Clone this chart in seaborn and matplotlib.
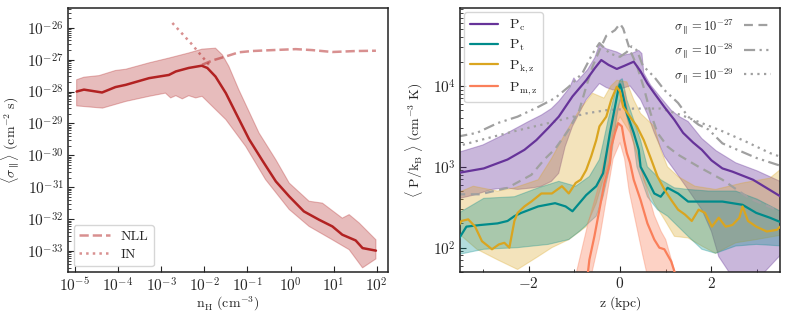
import numpy as np
import pandas as pd
import matplotlib
matplotlib.use("Agg")
import matplotlib.pyplot as plt
from matplotlib.ticker import FuncFormatter, LogLocator, MultipleLocator, NullLocator, NullFormatter
import seaborn as sns

# ---------------- data: left panel (log10 values) ----------------
nH_main = [-4.96, -4.79, -4.37, -4.06, -3.82, -3.28, -2.82, -2.66, -2.36, -2.06,
           -1.93, -1.74, -1.50, -1.27, -0.96, -0.65, -0.34, -0.03, 0.31, 0.66,
           0.97, 1.20, 1.51, 1.67, 1.98]
sig_main = [-28.00, -27.94, -28.03, -27.86, -27.79, -27.58, -27.48, -27.37, -27.26, -27.19,
            -27.26, -27.53, -28.05, -28.67, -29.50, -30.17, -30.82, -31.29, -31.76, -32.02,
            -32.23, -32.49, -32.67, -32.91, -32.99]
nH_up = [-4.96, -4.79, -4.44, -4.06, -3.82, -3.28, -2.82, -2.36, -2.05, -1.74,
         -1.58, -1.43, -1.20, -0.73, -0.34, -0.03, 0.43, 0.74, 1.20, 1.36,
         1.59, 1.98]
sig_up = [-27.63, -27.55, -27.50, -27.34, -27.30, -27.10, -26.95, -26.79, -26.67, -26.64,
          -26.85, -27.21, -27.94, -29.30, -30.14, -30.87, -31.44, -31.50, -31.97, -31.86,
          -32.12, -32.65]
nH_lo = [-4.96, -4.36, -3.82, -3.28, -2.90, -2.78, -2.66, -2.51, -2.36, -2.20,
         -2.05, -1.81, -1.50, -1.04, -0.58, -0.03, 0.43, 0.97, 1.36, 1.67,
         1.98]
sig_lo = [-28.45, -28.52, -28.31, -28.15, -28.05, -28.20, -28.13, -28.23, -28.13, -28.20,
          -28.15, -28.47, -28.88, -29.72, -30.76, -31.70, -32.23, -32.65, -32.96, -33.53,
          -33.25]
nH_nll = [-2.05, -1.80, -1.50, -1.20, -0.90, -0.58, 0.12, 0.50, 0.97, 1.50, 1.98]
sig_nll = [-27.16, -27.02, -26.90, -26.77, -26.73, -26.71, -26.67, -26.70, -26.76, -26.73, -26.72]
nH_in = [-2.74, -2.30, -1.89]
sig_in = [-25.85, -26.50, -27.16]

# ---------------- data: right panel (log10 P/kB) ----------------
z_c = [-3.58, -2.98, -2.46, -2.09, -1.83, -1.57, -1.34, -1.04, -0.74, -0.55,
       -0.41, -0.25, -0.07, 0.10, 0.30, 0.45, 0.60, 0.75, 0.97, 1.19,
       1.38, 1.60, 1.79, 2.00, 2.24, 2.46, 2.91, 3.58]
p_c = [2.92, 2.98, 3.09, 3.21, 3.33, 3.48, 3.62, 3.87, 4.07, 4.22,
       4.32, 4.26, 4.21, 4.25, 4.30, 4.18, 4.03, 3.91, 3.74, 3.58,
       3.42, 3.30, 3.21, 3.08, 2.98, 2.94, 2.84, 2.61]
z_c_up = [-3.58, -3.00, -2.46, -2.00, -1.72, -1.50, -1.34, -1.10, -1.01, -0.95,
          -0.71, -0.55, -0.45, -0.30, -0.07, 0.07, 0.25, 0.41, 0.48, 0.52,
          0.67, 0.90, 1.12, 1.30, 1.49, 1.79, 2.10, 2.53, 3.00, 3.58]
p_c_up = [3.17, 3.27, 3.42, 3.56, 3.64, 3.72, 3.81, 3.98, 4.10, 4.05,
          4.20, 4.35, 4.51, 4.46, 4.42, 4.38, 4.40, 4.44, 4.40, 4.16,
          4.01, 3.85, 3.70, 3.62, 3.56, 3.35, 3.20, 3.05, 2.95, 2.80]
z_c_lo = [-3.58, -3.20, -2.80, -2.50, -2.24, -1.90, -1.72, -1.50, -1.34, -1.20,
          -1.04, -0.74, -0.45, -0.30, -0.15, 0.05, 0.22, 0.45, 0.60, 0.75,
          0.97, 1.20, 1.45, 1.79, 2.00, 2.16, 2.50, 3.00, 3.58]
p_c_lo = [2.60, 2.65, 2.72, 2.74, 2.72, 2.74, 2.76, 2.82, 2.92, 3.25,
          3.50, 3.83, 4.03, 3.98, 3.95, 3.97, 4.00, 3.83, 3.65, 3.42,
          3.13, 2.95, 2.75, 2.47, 2.20, 1.89, 1.60, 1.60, 1.95]

z_t = [-3.58, -3.36, -3.06, -2.68, -2.46, -2.31, -2.16, -1.79, -1.42, -1.19,
       -1.04, -0.89, -0.74, -0.52, -0.37, -0.30, -0.22, -0.11, -0.04, 0.00,
       0.04, 0.15, 0.30, 0.41, 0.45, 0.60, 0.75, 0.89, 1.04, 1.27,
       1.49, 1.79, 2.24, 2.68, 2.98, 3.28, 3.58]
p_t = [2.06, 2.26, 2.28, 2.30, 2.33, 2.39, 2.43, 2.51, 2.55, 2.51,
       2.45, 2.55, 2.65, 2.76, 2.92, 3.15, 3.42, 3.74, 3.95, 4.02,
       3.95, 3.66, 3.42, 3.21, 3.00, 2.84, 2.67, 2.63, 2.74, 2.67,
       2.57, 2.57, 2.57, 2.53, 2.43, 2.37, 2.30]
z_t_up = [-3.58, -2.98, -2.31, -1.79, -1.34, -0.97, -0.67, -0.45, -0.37, -0.26,
          -0.11, 0.00, 0.05, 0.15, 0.30, 0.45, 0.60, 0.89, 1.19, 1.49,
          1.94, 2.53, 3.00, 3.58]
p_t_up = [2.41, 2.61, 2.63, 2.74, 2.82, 2.76, 2.88, 3.09, 3.29, 3.58,
          3.91, 4.07, 4.09, 3.83, 3.58, 3.33, 3.00, 2.84, 2.74, 2.72,
          2.70, 2.70, 2.60, 2.43]
z_t_lo = [-3.58, -2.98, -2.24, -1.57, -1.12, -0.89, -0.52, -0.37, -0.22, -0.07,
          0.00, 0.11, 0.30, 0.37, 0.60, 0.82, 1.04, 1.49, 1.79, 2.09,
          2.53, 2.98, 3.58]
p_t_lo = [1.91, 1.98, 2.00, 2.04, 2.10, 2.20, 2.39, 2.63, 3.00, 3.62,
          3.83, 3.70, 3.29, 3.00, 2.63, 2.47, 2.39, 2.14, 1.98, 1.93,
          2.02, 2.04, 2.02]

z_k = [-3.58, -3.47, -3.32, -3.17, -3.02, -2.80, -2.65, -2.53, -2.42, -2.31,
       -2.24, -2.09, -1.94, -1.72, -1.49, -1.27, -1.12, -0.97, -0.86, -0.74,
       -0.63, -0.52, -0.45, -0.30, -0.19, -0.07, 0.00, 0.07, 0.22, 0.37,
       0.52, 0.67, 0.82, 0.97, 1.12, 1.27, 1.42, 1.57, 1.72, 1.86,
       2.01, 2.16, 2.31, 2.46, 2.61, 2.68, 2.80, 2.98, 3.21, 3.43,
       3.58]
p_k = [2.22, 2.33, 2.35, 2.26, 2.08, 1.98, 2.04, 2.06, 2.00, 2.33,
       2.43, 2.51, 2.57, 2.67, 2.67, 2.76, 2.67, 2.80, 2.84, 2.96,
       3.13, 3.33, 3.50, 3.62, 3.83, 3.99, 3.93, 3.74, 3.62, 3.50,
       3.33, 3.11, 2.88, 2.72, 2.59, 2.47, 2.41, 2.33, 2.47, 2.43,
       2.26, 2.37, 2.26, 2.28, 2.37, 2.51, 2.33, 2.26, 2.20, 2.22,
       2.30]
z_k_up = [-3.58, -3.21, -2.68, -2.31, -1.79, -1.50, -1.19, -0.89, -0.60, -0.35,
          -0.20, -0.07, 0.15, 0.30, 0.45, 0.75, 0.90, 1.04, 1.27, 1.64,
          2.09, 2.68, 3.28, 3.58]
p_k_up = [2.67, 2.76, 2.70, 2.74, 2.84, 3.10, 3.42, 3.70, 3.91, 3.85,
          4.00, 4.07, 4.05, 3.83, 3.66, 3.50, 3.20, 3.00, 2.88, 2.76,
          2.72, 2.80, 2.86, 3.00]
z_k_lo = [-3.58, -3.13, -2.68, -2.24, -1.79, -1.49, -1.12, -0.74, -0.52, -0.37,
          -0.22, -0.15, 0.00, 0.22, 0.37, 0.52, 0.75, 0.97, 1.19, 1.49,
          1.79, 2.09, 2.53, 2.98, 3.58]
p_k_lo = [2.20, 1.98, 1.85, 1.73, 1.89, 2.00, 2.10, 2.26, 2.55, 2.84,
          3.09, 3.42, 3.62, 3.42, 3.17, 2.84, 2.55, 2.35, 2.14, 2.12,
          2.02, 1.93, 2.06, 2.10, 2.16]

z_m = [-0.72, -0.67, -0.56, -0.45, -0.34, -0.22, -0.19, -0.11, -0.04, 0.04,
       0.09, 0.15, 0.22, 0.30, 0.45, 0.60, 0.75, 0.86, 0.97, 1.12, 1.25]
p_m = [1.60, 1.85, 2.14, 2.47, 2.80, 3.05, 3.25, 3.42, 3.54, 3.50,
       3.33, 3.17, 3.05, 2.84, 2.59, 2.30, 2.10, 2.00, 1.98, 1.83, 1.60]
z_m_up = [-0.95, -0.70, -0.50, -0.30, -0.15, 0.00, 0.10, 0.20, 0.30, 0.45,
          0.60, 0.75, 0.90, 1.00, 1.10, 1.25]
p_m_up = [1.70, 2.30, 2.70, 3.20, 3.60, 3.80, 3.95, 3.60, 3.30, 3.00,
          2.70, 2.40, 2.20, 2.10, 1.90, 1.60]
z_m_lo = [-0.65, -0.45, -0.30, -0.15, 0.00, 0.10, 0.20, 0.35, 0.50, 0.62]
p_m_lo = [1.60, 2.10, 2.60, 3.10, 3.30, 3.10, 2.70, 2.30, 1.90, 1.60]

z_s27 = [-3.58, -3.06, -2.46, -1.94, -1.64, -1.42, -1.12, -0.89, -0.74, -0.60,
         -0.45, -0.30, -0.11, 0.00, 0.07, 0.22, 0.37, 0.52, 0.67, 0.82,
         1.04, 1.27, 1.72, 2.24, 2.83, 3.58]
p_s27 = [2.66, 2.66, 2.74, 2.90, 3.10, 3.22, 3.46, 3.70, 3.99, 4.24,
         4.44, 4.62, 4.69, 4.77, 4.71, 4.44, 4.25, 3.98, 3.66, 3.42,
         3.25, 3.15, 3.00, 2.84, 2.61, 2.43]
z_s28 = [-3.58, -3.13, -2.68, -2.24, -1.79, -1.42, -1.12, -0.82, -0.60, -0.45,
         -0.22, 0.00, 0.15, 0.25, 0.37, 0.50, 0.75, 0.97, 1.27, 1.49,
         1.72, 1.94, 2.24, 2.98, 3.58]
p_s28 = [3.37, 3.42, 3.54, 3.62, 3.74, 3.85, 3.99, 4.16, 4.40, 4.53,
         4.40, 4.36, 4.42, 4.49, 4.44, 4.25, 4.11, 3.95, 3.79, 3.62,
         3.52, 3.46, 3.29, 3.11, 3.00]
z_s29 = [-3.58, -3.06, -2.31, -1.57, -0.74, -0.30, 0.30, 0.89, 1.34, 1.79,
         2.24, 2.76, 3.28, 3.58]
p_s29 = [3.25, 3.33, 3.44, 3.54, 3.66, 3.70, 3.72, 3.72, 3.64, 3.54,
         3.44, 3.31, 3.17, 3.11]

left_xticks = [-5, -4, -3, -2, -1, 0, 1, 2]
left_yticks = [-33, -32, -31, -30, -29, -28, -27, -26]
right_xticks = [-2, 0, 2]
right_yticks = [2, 3, 4]

# ---------------- style ----------------
sns.set_style("ticks")
plt.rcParams.update({
    "font.family": "serif",
    "font.serif": ["cmr10", "DejaVu Serif"],
    "mathtext.fontset": "cm",
    "axes.formatter.use_mathtext": True,
    "font.size": 10,
    "axes.labelsize": 10,
    "xtick.labelsize": 11,
    "ytick.labelsize": 11,
    "axes.edgecolor": "#222222",
    "axes.linewidth": 1.1,
    "xtick.direction": "in",
    "ytick.direction": "in",
    "xtick.major.size": 4,
    "ytick.major.size": 4,
    "xtick.minor.size": 2,
    "ytick.minor.size": 2,
    "xtick.major.pad": 3,
    "ytick.major.pad": 3,
})

fig = plt.figure(figsize=(7.89, 3.19), dpi=100)
axL = fig.add_axes([68 / 789, 47 / 319, 320 / 789, 264 / 319])
axR = fig.add_axes([460 / 789, 47 / 319, 320 / 789, 264 / 319])

p10 = lambda a: np.power(10.0, np.asarray(a, dtype=float))
dec_fmt = FuncFormatter(lambda v, p: r"$10^{%d}$" % int(round(np.log10(v))) if v > 0 else "")

# ---------------- left panel ----------------
red = "#b22222"
polyx = np.concatenate([p10(nH_up), p10(nH_lo)[::-1]])
polyy = np.concatenate([p10(sig_up), p10(sig_lo)[::-1]])
axL.fill(polyx, polyy, color=red, alpha=0.3, lw=0.8, zorder=1)
sns.lineplot(x=p10(nH_main), y=p10(sig_main), ax=axL, color=red, lw=1.8,
             estimator=None, sort=False, zorder=3)
sns.lineplot(x=p10(nH_nll), y=p10(sig_nll), ax=axL, color=red, alpha=0.5, lw=1.8,
             linestyle="--", estimator=None, sort=False, label="NLL", zorder=2)
sns.lineplot(x=p10(nH_in), y=p10(sig_in), ax=axL, color=red, alpha=0.5, lw=1.8,
             linestyle=":", estimator=None, sort=False, label="IN", zorder=2)
axL.set_xscale("log")
axL.set_yscale("log")
axL.set_xlim(10 ** -5.16, 10 ** 2.26)
axL.set_ylim(10 ** -33.66, 10 ** -25.38)
axL.set_xticks(p10(left_xticks))
axL.xaxis.set_minor_locator(NullLocator())
axL.set_yticks(p10(left_yticks))
axL.yaxis.set_minor_locator(LogLocator(base=10, subs=np.arange(2, 10), numticks=30))
axL.yaxis.set_minor_formatter(NullFormatter())
axL.xaxis.set_major_formatter(dec_fmt)
axL.yaxis.set_major_formatter(dec_fmt)
axL.set_xlabel(r"$\mathrm{n_H\ (cm^{-3})}$")
axL.set_ylabel(r"$\langle\sigma_\parallel\rangle\ (\mathrm{cm^{-2}\ s})$")
axL.xaxis.set_label_coords(0.5, -0.085)
axL.yaxis.set_label_coords(-0.145, 0.5)
axL.tick_params(top=False, right=False, which="both")
axL.legend(loc="lower left", fontsize=10, frameon=True, handlelength=2.2,
           labelspacing=0.35, borderaxespad=0.4)

# ---------------- right panel ----------------
purple = "#663399"
teal = "#008b8b"
gold = "#daa520"
coral = "#fa7f5a"
grey = "#a0a0a0"

def band(ax, zu, pu, zl, pl, color, alpha):
    xx = np.concatenate([zu, zl[::-1]])
    yy = np.concatenate([p10(pu), p10(pl)[::-1]])
    ax.fill(xx, yy, color=color, alpha=alpha, lw=0.8, zorder=1)

band(axR, np.array(z_c_up), p_c_up, np.array(z_c_lo), p_c_lo, purple, 0.35)
band(axR, np.array(z_k_up), p_k_up, np.array(z_k_lo), p_k_lo, gold, 0.3)
band(axR, np.array(z_t_up), p_t_up, np.array(z_t_lo), p_t_lo, teal, 0.3)
band(axR, np.array(z_m_up), p_m_up, np.array(z_m_lo), p_m_lo, coral, 0.35)

sns.lineplot(x=z_s27, y=p10(p_s27), ax=axR, color=grey, lw=1.6,
             linestyle=(0, (4, 2.5)), estimator=None, sort=False,
             label=r"$\sigma_\parallel=10^{-27}$", zorder=2)
sns.lineplot(x=z_s28, y=p10(p_s28), ax=axR, color=grey, lw=1.6,
             linestyle=(0, (5, 2, 1, 2, 1, 2)), estimator=None, sort=False,
             label=r"$\sigma_\parallel=10^{-28}$", zorder=2)
sns.lineplot(x=z_s29, y=p10(p_s29), ax=axR, color=grey, lw=1.6,
             linestyle=(0, (1, 2)), estimator=None, sort=False,
             label=r"$\sigma_\parallel=10^{-29}$", zorder=2)

sns.lineplot(x=z_c, y=p10(p_c), ax=axR, color=purple, lw=1.6, estimator=None,
             sort=False, label=r"$\mathrm{P_c}$", zorder=3)
sns.lineplot(x=z_t, y=p10(p_t), ax=axR, color=teal, lw=1.6, estimator=None,
             sort=False, label=r"$\mathrm{P_t}$", zorder=3)
sns.lineplot(x=z_k, y=p10(p_k), ax=axR, color=gold, lw=1.6, estimator=None,
             sort=False, label=r"$\mathrm{P_{k,z}}$", zorder=3)
sns.lineplot(x=z_m, y=p10(p_m), ax=axR, color=coral, lw=1.6, estimator=None,
             sort=False, label=r"$\mathrm{P_{m,z}}$", zorder=3)

axR.set_yscale("log")
axR.set_xlim(-3.5, 3.5)
axR.set_ylim(50, 9.2e4)
axR.set_xticks(right_xticks)
axR.xaxis.set_minor_locator(MultipleLocator(1))
axR.xaxis.set_major_formatter(FuncFormatter(lambda v, p: r"$%d$" % int(round(v))))
axR.set_yticks(p10(right_yticks))
axR.yaxis.set_minor_locator(LogLocator(base=10, subs=np.arange(2, 10), numticks=30))
axR.yaxis.set_minor_formatter(NullFormatter())
axR.yaxis.set_major_formatter(dec_fmt)
axR.set_xlabel(r"$\mathrm{z\ (kpc)}$")
axR.set_ylabel(r"$\langle\ \mathrm{P/k_B}\ \rangle\ (\mathrm{cm^{-3}\ K})$")
axR.xaxis.set_label_coords(0.5, -0.085)
axR.yaxis.set_label_coords(-0.11, 0.5)
axR.tick_params(top=False, right=False, which="both")

handles, labels = axR.get_legend_handles_labels()
h_sig, l_sig = handles[:3], labels[:3]
h_p, l_p = handles[3:], labels[3:]
leg1 = axR.legend(h_p, l_p, loc="upper left", fontsize=10, frameon=True,
                  handlelength=2.0, labelspacing=0.35, borderaxespad=0.3)
axR.add_artist(leg1)
axR.legend(h_sig, l_sig, loc="upper right", fontsize=9, frameon=False,
           markerfirst=False, handlelength=2.2, labelspacing=0.45, borderaxespad=0.3)

fig.savefig("out.png", dpi=100)
